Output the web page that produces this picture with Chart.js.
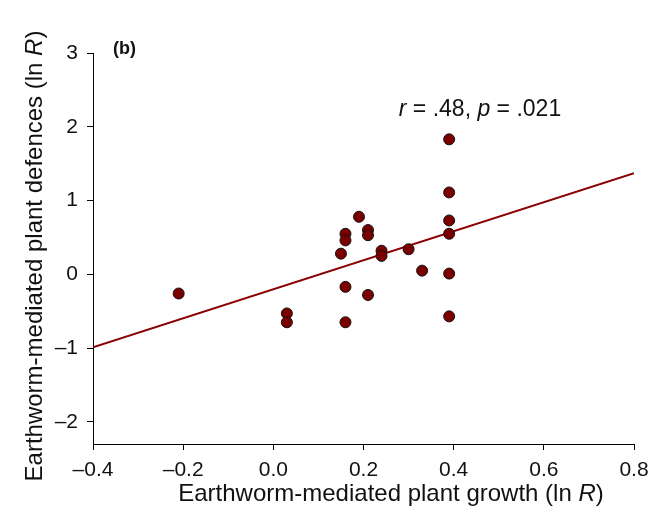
<!DOCTYPE html>
<html>
<head>
<meta charset="utf-8">
<script src="https://cdn.jsdelivr.net/npm/chart.js@4"></script>
<style>
  html, body { margin: 0; padding: 0; background: #fff; }
  #wrap { width: 663px; height: 519px; }
</style>
</head>
<body>
<div id="wrap"><canvas id="diagram" width="663" height="519"></canvas></div>
<script>
// Data (ln R values)
const growth = [-0.21, 0.03, 0.03, 0.15, 0.16, 0.16, 0.16, 0.16, 0.19, 0.21, 0.21, 0.21,
                0.24, 0.24, 0.30, 0.33, 0.39, 0.39, 0.39, 0.39, 0.39, 0.39];
const defences = [-0.26, -0.53, -0.65, 0.28, 0.55, 0.46, -0.17, -0.65, 0.78, 0.60, 0.53, -0.28,
                  0.32, 0.25, 0.34, 0.05, 1.83, 1.11, 0.73, 0.55, 0.01, -0.57];
// Fitted regression line end points
const fitX = [-0.4, 0.8];
const fitY = [-0.99, 1.37];
// Axis ticks
const xTicks = [-0.4, -0.2, 0.0, 0.2, 0.4, 0.6, 0.8];
const yTicks = [-2, -1, 0, 1, 2, 3];

const FONT = "'Liberation Sans', Arial, sans-serif";
const dash = s => s.replace('-', '\u2013');

// Draw text made of plain/italic/bold parts
function richText(ctx, parts, x, y, size, align) {
    let w = 0;
    parts.forEach(p => {
        ctx.font = (p.s || '') + ' ' + size + 'px ' + FONT;
        p.w = ctx.measureText(p.t).width;
        w += p.w;
    });
    let cx = align === 'center' ? x - w / 2 : x;
    parts.forEach(p => {
        ctx.font = (p.s || '') + ' ' + size + 'px ' + FONT;
        ctx.fillText(p.t, cx, y);
        cx += p.w;
    });
}

const labels = {
    id: 'labels',
    afterDraw(chart) {
        const ctx = chart.ctx;
        ctx.save();
        ctx.fillStyle = '#111';
        ctx.textAlign = 'left';
        ctx.textBaseline = 'alphabetic';
        // panel letter
        richText(ctx, [{t: '(b)', s: 'bold'}], 113, 54, 18, 'left');
        // statistics
        richText(ctx, [{t: 'r', s: 'italic'}, {t: ' = .48, '}, {t: 'p', s: 'italic'}, {t: ' = .021'}],
                 480, 116, 23, 'center');
        // x title
        richText(ctx, [{t: 'Earthworm-mediated plant growth (ln '}, {t: 'R', s: 'italic'}, {t: ')'}],
                 391, 501, 24, 'center');
        // y title
        ctx.translate(42, 256);
        ctx.rotate(-Math.PI / 2);
        richText(ctx, [{t: 'Earthworm-mediated plant defences (ln '}, {t: 'R', s: 'italic'}, {t: ')'}],
                 0, 0, 24, 'center');
        ctx.restore();
    }
};

function createChart() {
    const ctx = document.getElementById('diagram').getContext('2d');
    new Chart(ctx, {
        type: 'scatter',
        data: {
            datasets: [
                {
                    label: 'Studies',
                    data: growth.map((g, i) => ({x: g, y: defences[i]})),
                    backgroundColor: '#7a0000',
                    borderColor: '#111',
                    borderWidth: 1,
                    pointRadius: 5.5,
                    order: 1
                },
                {
                    label: 'Fit',
                    type: 'line',
                    data: fitX.map((x, i) => ({x: x, y: fitY[i]})),
                    borderColor: '#8b0000',
                    borderWidth: 2,
                    pointRadius: 0,
                    fill: false,
                    order: 2
                }
            ]
        },
        options: {
            responsive: false,
            animation: false,
            layout: { padding: { top: 53, right: 29, left: 0, bottom: 0 } },
            plugins: { legend: { display: false }, tooltip: { enabled: false } },
            scales: {
                x: {
                    type: 'linear',
                    min: -0.4,
                    max: 0.8,
                    afterBuildTicks: s => { s.ticks = xTicks.map(v => ({value: v})); },
                    afterFit: s => { s.height = 75; },
                    border: { color: '#000', width: 1 },
                    grid: { drawOnChartArea: false, color: '#000', tickLength: 6 },
                    ticks: {
                        color: '#111',
                        padding: 8,
                        maxRotation: 0,
                        font: { family: FONT, size: 21 },
                        callback: v => dash(Number(v).toFixed(1))
                    }
                },
                y: {
                    min: -2.3,
                    max: 3,
                    afterBuildTicks: s => { s.ticks = yTicks.map(v => ({value: v})); },
                    afterFit: s => { s.width = 93; },
                    border: { color: '#000', width: 1 },
                    grid: { drawOnChartArea: false, color: '#000', tickLength: 6 },
                    ticks: {
                        color: '#111',
                        padding: 9,
                        font: { family: FONT, size: 21 },
                        callback: v => dash(String(v))
                    }
                }
            }
        },
        plugins: [labels]
    });
}

window.onload = createChart;
</script>
</body>
</html>
